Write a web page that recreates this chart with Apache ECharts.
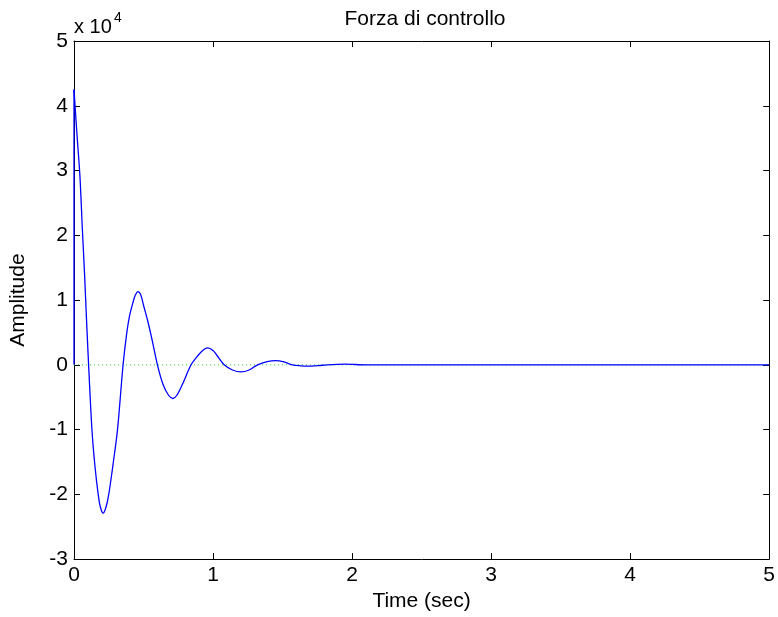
<!DOCTYPE html>
<html>
<head>
<meta charset="utf-8">
<script src="https://cdn.jsdelivr.net/npm/echarts@6/dist/echarts.min.js"></script>
<style>
    html, body { margin: 0; padding: 0; background: #fff; }
    #main { width: 778px; height: 617px; }
</style>
</head>
<body>
<div id="main"></div>
<script>
// tempo (s) e forza di controllo (in unità di 10^4)
var timeSec = [0, 0.02, 0.043, 0.06, 0.076, 0.09, 0.105, 0.129, 0.15, 0.174, 0.19, 0.21, 0.23, 0.25, 0.28, 0.313, 0.353, 0.38, 0.40, 0.425, 0.44, 0.46, 0.48, 0.50, 0.53, 0.56, 0.60, 0.64, 0.68, 0.711, 0.74, 0.78, 0.842, 0.89, 0.93, 0.962, 1.0, 1.03, 1.08, 1.14, 1.20, 1.26, 1.32, 1.39, 1.45, 1.51, 1.57, 1.63, 1.69, 1.76, 1.82, 1.95, 2.1, 2.3, 2.5, 3, 3.5, 4, 4.5, 5];
var force = [4.25, 3.6, 2.9, 2.1, 1.4, 0.7, 0, -1, -1.55, -2, -2.2, -2.29, -2.2, -2, -1.55, -1, 0, 0.5, 0.76, 0.97, 1.07, 1.13, 1.08, 0.92, 0.68, 0.4, 0, -0.3, -0.47, -0.52, -0.47, -0.3, 0, 0.14, 0.23, 0.26, 0.22, 0.14, 0, -0.08, -0.11, -0.08, 0, 0.05, 0.066, 0.045, 0, -0.015, -0.02, -0.012, 0, 0.01, 0, 0, 0, 0, 0, 0, 0, 0];
// salto iniziale a t = 0
var jumpTime = [0, 0];
var jumpForce = [0, 4.25];
// valore di regime
var steadyTime = [0, 5];
var steadyForce = [0, 0];

var xTicks = [0, 1, 2, 3, 4, 5];
var yTicks = [-3, -2, -1, 0, 1, 2, 3, 4, 5];

var FONT = "'Liberation Sans', Arial, sans-serif";
var FS = 21;

function pairs(xs, ys) {
    var out = [];
    for (var i = 0; i < xs.length; i++) out.push([xs[i], ys[i]]);
    return out;
}

var myChart = echarts.init(document.getElementById('main'));

function axisCommon() {
    return {
        axisLine: {show: true, onZero: false, lineStyle: {color: '#000', width: 1}},
        axisTick: {show: true, inside: true, length: 6, lineStyle: {color: '#000'}},
        splitLine: {show: false}
    };
}

var option = {
    animation: false,
    backgroundColor: '#fff',
    textStyle: {fontFamily: FONT},
    title: {
        text: 'Forza di controllo',
        left: 420,
        top: 4,
        textAlign: 'center',
        textStyle: {fontFamily: FONT, fontSize: FS, fontWeight: 'normal', color: '#000'}
    },
    grid: {left: 74, right: 6, top: 41, bottom: 55, show: false},
    xAxis: [
        Object.assign({
            type: 'value', min: xTicks[0], max: xTicks[xTicks.length - 1], interval: 1,
            name: 'Time (sec)', nameLocation: 'middle', nameGap: 30,
            nameTextStyle: {fontFamily: FONT, fontSize: FS, color: '#000'},
            axisLabel: {fontFamily: FONT, fontSize: FS, color: '#000', margin: 6}
        }, axisCommon()),
        Object.assign({
            type: 'value', position: 'top', min: xTicks[0], max: xTicks[xTicks.length - 1], interval: 1,
            axisLabel: {show: false}
        }, axisCommon())
    ],
    yAxis: [
        Object.assign({
            type: 'value', min: yTicks[0], max: yTicks[yTicks.length - 1], interval: 1,
            name: 'Amplitude', nameLocation: 'middle', nameGap: 45, nameRotate: 90,
            nameTextStyle: {fontFamily: FONT, fontSize: FS, color: '#000'},
            axisLabel: {fontFamily: FONT, fontSize: FS, color: '#000', margin: 6}
        }, axisCommon()),
        Object.assign({
            type: 'value', position: 'right', min: yTicks[0], max: yTicks[yTicks.length - 1], interval: 1,
            axisLabel: {show: false}
        }, axisCommon())
    ],
    graphic: [
        {
            type: 'text', left: 74, top: 17,
            style: {text: 'x 10', fontFamily: FONT, fontSize: 20, fill: '#000'}
        },
        {
            type: 'text', left: 114, top: 11,
            style: {text: '4', fontFamily: FONT, fontSize: 14, fill: '#000'}
        }
    ],
    series: [
        {
            name: 'regime',
            type: 'line',
            data: pairs(steadyTime, steadyForce),
            symbol: 'none',
            lineStyle: {color: '#22dd22', width: 1, type: [1, 3]},
            z: 1
        },
        {
            name: 'salto',
            type: 'line',
            data: pairs(jumpTime, jumpForce),
            symbol: 'none',
            lineStyle: {color: '#0000ff', width: 1.3},
            z: 2
        },
        {
            name: 'Forza di controllo',
            type: 'line',
            data: pairs(timeSec, force),
            symbol: 'none',
            smooth: 0.3,
            lineStyle: {color: '#0000ff', width: 1.3},
            z: 3
        }
    ]
};

myChart.setOption(option);
</script>
</body>
</html>
